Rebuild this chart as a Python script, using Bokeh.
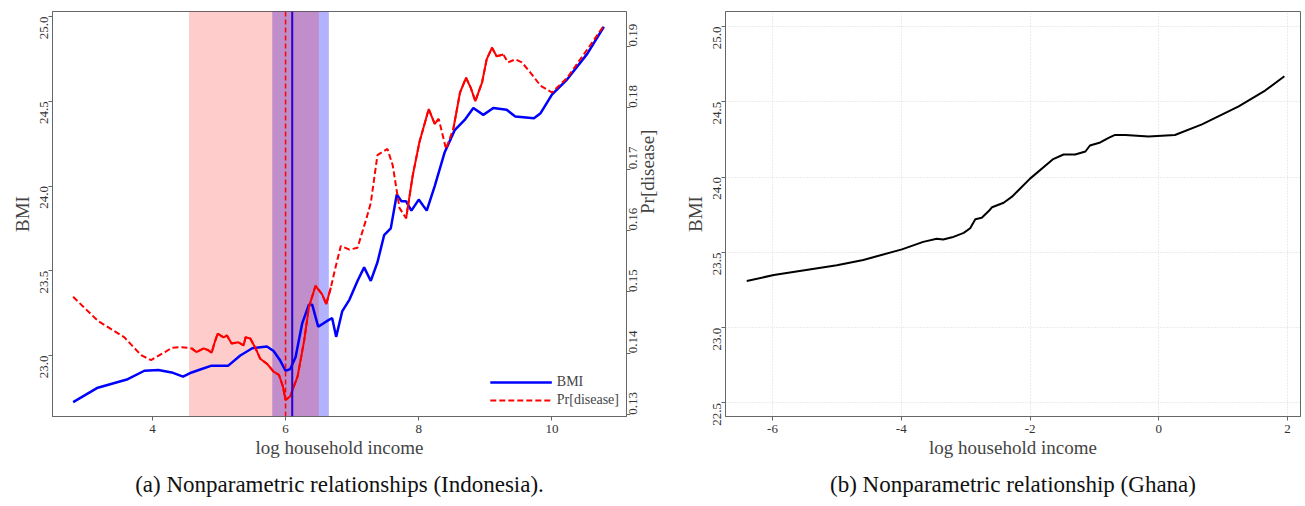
import math

from bokeh.plotting import figure
from bokeh.layouts import row
from bokeh.models import (LinearAxis, Range1d, FixedTicker, BoxAnnotation, Span,
                          Legend, LegendItem, Title, NumeralTickFormatter,
                          CustomJSTickFormatter)
from bokeh.embed import file_html
from bokeh.resources import INLINE

FONT = "Liberation Serif"

# (a) Indonesia: BMI against log household income
idn_x = [2.81, 3.18, 3.63, 3.88, 4.09, 4.29, 4.46, 4.59, 4.74, 4.89, 5.14, 5.32,
         5.50, 5.72, 5.82, 5.92, 6.00, 6.07, 6.15, 6.25, 6.35, 6.40, 6.49, 6.65,
         6.70, 6.76, 6.85, 6.96, 7.08, 7.18, 7.28, 7.38, 7.48, 7.58, 7.67, 7.74,
         7.81, 7.89, 8.00, 8.12, 8.24, 8.39, 8.54, 8.69, 8.82, 8.97, 9.12, 9.32,
         9.45, 9.73, 9.83, 10.00, 10.23, 10.53, 10.78]
idn_bmi = [22.725, 22.81, 22.86, 22.91, 22.915, 22.90, 22.875, 22.90, 22.92, 22.94,
           22.94, 23.00, 23.043, 23.053, 23.027, 22.97, 22.91, 22.92, 22.99, 23.19,
           23.30, 23.30, 23.17, 23.21, 23.22, 23.11, 23.26, 23.33, 23.44, 23.52,
           23.44, 23.55, 23.71, 23.75, 23.95, 23.91, 23.91, 23.855, 23.92, 23.855,
           24.00, 24.20, 24.33, 24.39, 24.46, 24.42, 24.46, 24.45, 24.41, 24.40,
           24.43, 24.54, 24.63, 24.78, 24.94]

# (a) Indonesia: probability of disease (right axis)
pr_x = [2.81, 3.18, 3.58, 3.83, 3.98, 4.19, 4.29, 4.44, 4.59, 4.66, 4.77, 4.84,
        4.89, 4.93, 4.98, 5.07, 5.12, 5.19, 5.29, 5.37, 5.40, 5.47, 5.55, 5.62,
        5.72, 5.82, 5.90, 5.96, 6.00, 6.07, 6.18, 6.28, 6.35, 6.45, 6.55, 6.61,
        6.68, 6.75, 6.83, 6.96, 7.08, 7.21, 7.28, 7.38, 7.53, 7.61, 7.71, 7.81,
        7.91, 8.01, 8.15, 8.24, 8.30, 8.41, 8.52, 8.62, 8.71, 8.78, 8.85, 8.95,
        9.02, 9.10, 9.17, 9.27, 9.34, 9.45, 9.55, 9.68, 9.83, 10.00, 10.23, 10.53,
        10.78]
pr_disease = [0.1492, 0.1453, 0.1426, 0.1397, 0.1389, 0.1402, 0.1409, 0.1410, 0.1408,
              0.1402, 0.1408, 0.1405, 0.1401, 0.1416, 0.1432, 0.1426, 0.1429, 0.1416,
              0.1418, 0.1413, 0.1426, 0.1424, 0.1408, 0.1391, 0.1383, 0.1370, 0.1365,
              0.1346, 0.1324, 0.1330, 0.1362, 0.1421, 0.1475, 0.1510, 0.1496, 0.1480,
              0.1507, 0.1540, 0.1575, 0.1569, 0.1572, 0.1618, 0.1645, 0.1723, 0.1733,
              0.1706, 0.1637, 0.1620, 0.1690, 0.1744, 0.1798, 0.1774, 0.1782, 0.1733,
              0.1766, 0.1825, 0.1849, 0.1833, 0.1811, 0.1841, 0.1879, 0.1898, 0.1884,
              0.1887, 0.1874, 0.1879, 0.1874, 0.1857, 0.1836, 0.1825, 0.1849, 0.1895,
              0.1934]
# stretches where the jittery estimate makes the dashed line look solid
pr_dense = [(4.55, 6.70), (7.81, 8.30), (8.52, 9.27)]

# shaded intervals and vertical markers
red_band = [4.55, 6.50]
blue_band = [5.80, 6.65]
red_mark = 6.00
blue_mark = 6.10

# (b) Ghana
gh_x = [-6.40, -5.98, -5.00, -4.59, -3.99, -3.66, -3.45, -3.35, -3.21, -3.03, -2.93,
        -2.85, -2.75, -2.63, -2.59, -2.41, -2.28, -2.00, -1.64, -1.48, -1.30, -1.14,
        -1.07, -0.91, -0.78, -0.68, -0.52, -0.16, 0.25, 0.67, 1.24, 1.65, 1.95]
gh_bmi = [23.31, 23.35, 23.415, 23.45, 23.52, 23.57, 23.59, 23.585, 23.60, 23.63, 23.66,
          23.72, 23.73, 23.78, 23.80, 23.83, 23.87, 23.99, 24.12, 24.15, 24.15, 24.17,
          24.21, 24.23, 24.26, 24.28, 24.28, 24.27, 24.28, 24.35, 24.47, 24.575, 24.67]

idn_xticks = [4, 6, 8, 10]
idn_yticks = [23.0, 23.5, 24.0, 24.5, 25.0]
pr_ticks = [0.13, 0.14, 0.15, 0.16, 0.17, 0.18, 0.19]
gh_xticks = [-6, -4, -2, 0, 2]
gh_yticks = [22.5, 23.0, 23.5, 24.0, 24.5, 25.0]


def style_axis(ax, vertical=False):
    ax.axis_line_color = "#666666"
    ax.major_tick_line_color = "#666666"
    ax.major_tick_out = 4
    ax.major_tick_in = 0
    ax.minor_tick_line_color = None
    ax.major_label_text_font = FONT
    ax.major_label_text_font_size = "13px"
    ax.major_label_text_color = "#333333"
    ax.axis_label_text_font = FONT
    ax.axis_label_text_font_size = "19px"
    ax.axis_label_text_font_style = "normal"
    ax.axis_label_standoff = 1
    ax.major_label_standoff = 4
    if vertical:
        ax.major_label_orientation = math.pi / 2


def caption(text):
    return Title(text=text, align="center", text_font=FONT, text_font_size="23px",
                 text_font_style="normal", text_color="#111111", standoff=19)


# ---- left panel
p1 = figure(width=672, height=506, x_range=(2.5, 11.12), y_range=(22.64, 25.03),
            output_backend="svg", toolbar_location=None,
            min_border_left=52, min_border_right=46, min_border_top=11,
            min_border_bottom=0)
p1.extra_y_ranges = {"pr": Range1d(0.1297, 0.1957)}
p1.grid.grid_line_color = None
p1.outline_line_color = "#666666"
p1.xaxis.ticker = FixedTicker(ticks=idn_xticks)
p1.yaxis.ticker = FixedTicker(ticks=idn_yticks)
p1.yaxis.formatter = NumeralTickFormatter(format="0.0")
p1.xaxis.axis_label = "log household income"
p1.yaxis.axis_label = "BMI"

right_ax = LinearAxis(y_range_name="pr", axis_label="Pr[disease]",
                      ticker=FixedTicker(ticks=pr_ticks),
                      formatter=NumeralTickFormatter(format="0.00"))
p1.add_layout(right_ax, "right")
for ax in p1.xaxis:
    style_axis(ax)
for ax in p1.yaxis:
    style_axis(ax, vertical=True)
right_ax.axis_label_orientation = math.pi / 2
right_ax.major_label_standoff = 3
right_ax.axis_label_standoff = 3

p1.add_layout(BoxAnnotation(left=blue_band[0], right=blue_band[1], fill_color="blue",
                            fill_alpha=0.3, line_color=None, level="underlay"))
p1.add_layout(BoxAnnotation(left=red_band[0], right=red_band[1], fill_color="red",
                            fill_alpha=0.2, line_color=None, level="underlay"))

r_bmi = p1.line(idn_x, idn_bmi, line_color="blue", line_width=2.5)
r_pr = p1.line(pr_x, pr_disease, y_range_name="pr", line_color="red",
               line_width=2, line_dash="6 3")
for lo, hi in pr_dense:
    seg = [(x, y) for x, y in zip(pr_x, pr_disease) if lo <= x <= hi]
    p1.line([s[0] for s in seg], [s[1] for s in seg], y_range_name="pr",
            line_color="red", line_width=2)

p1.add_layout(Span(location=red_mark, dimension="height", line_color="red",
                   line_width=1.5, line_dash="5 3"))
p1.add_layout(Span(location=blue_mark, dimension="height", line_color="#2a00cc",
                   line_width=2))

legend = Legend(items=[LegendItem(label="BMI", renderers=[r_bmi]),
                       LegendItem(label="Pr[disease]", renderers=[r_pr])],
                location="bottom_right", border_line_alpha=0, background_fill_alpha=0,
                label_text_font=FONT, label_text_font_size="14px",
                glyph_width=62, spacing=0, padding=2, margin=5,
                label_height=18, glyph_height=18)
p1.add_layout(legend)
p1.add_layout(caption("(a) Nonparametric relationships (Indonesia)."), "below")

# ---- right panel
p2 = figure(width=633, height=506, x_range=(-6.73, 2.2), y_range=(22.41, 25.10),
            output_backend="svg", toolbar_location=None,
            min_border_left=53, min_border_right=5, min_border_top=10,
            min_border_bottom=0)
p2.outline_line_color = "#666666"
p2.xaxis.ticker = FixedTicker(ticks=gh_xticks)
p2.yaxis.ticker = FixedTicker(ticks=gh_yticks)
p2.xgrid.ticker = FixedTicker(ticks=gh_xticks)
p2.ygrid.ticker = FixedTicker(ticks=gh_yticks)
p2.xaxis.formatter = CustomJSTickFormatter(code="return tick.toFixed(0);")
p2.yaxis.formatter = NumeralTickFormatter(format="0.0")
p2.grid.grid_line_color = "#d9d9d9"
p2.grid.grid_line_dash = "1 2"
p2.xaxis.axis_label = "log household income"
p2.yaxis.axis_label = "BMI"
style_axis(p2.xaxis[0])
style_axis(p2.yaxis[0], vertical=True)

p2.line(gh_x, gh_bmi, line_color="black", line_width=2)
p2.add_layout(caption("(b) Nonparametric relationship (Ghana)"), "below")

page = row(p1, p2, spacing=0)
open("out.html", "w").write(file_html(page, INLINE))
